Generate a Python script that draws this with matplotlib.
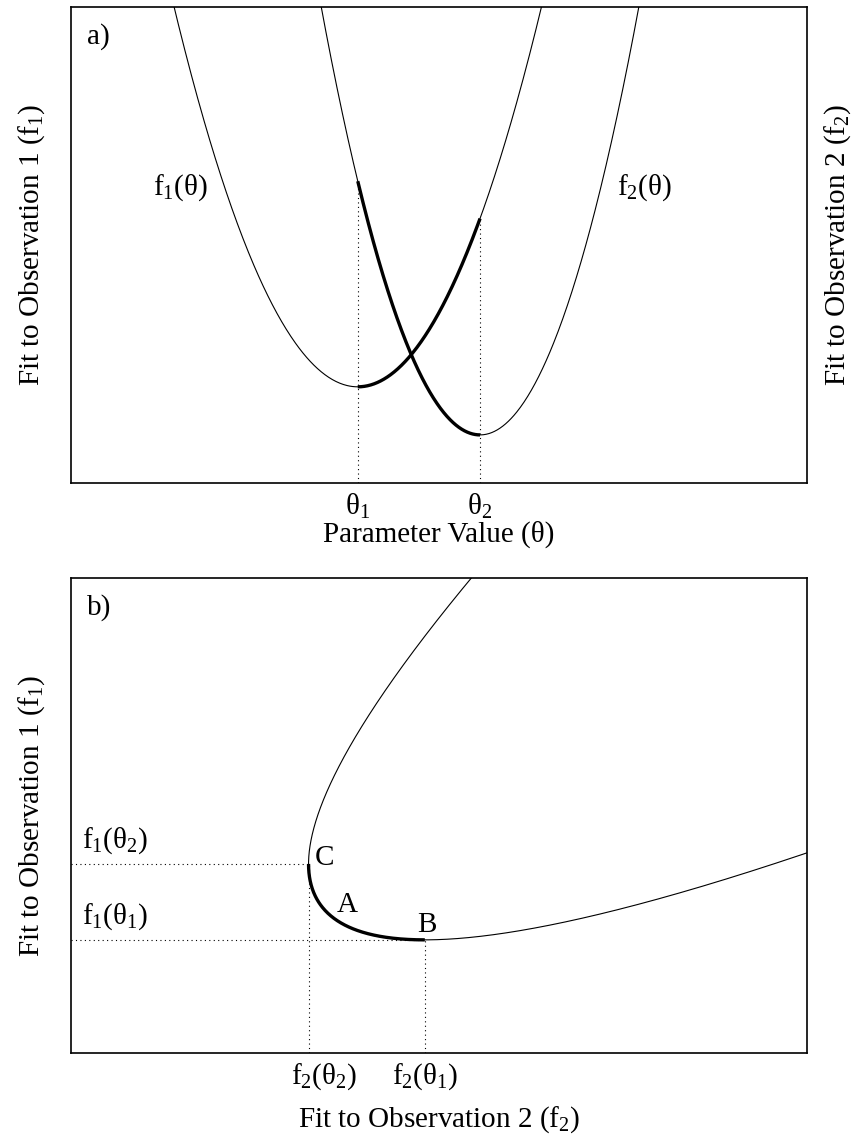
import numpy as np
import matplotlib.pyplot as plt
from matplotlib.transforms import ScaledTranslation

plt.rcParams['font.family'] = 'Liberation Serif'
plt.rcParams['mathtext.fontset'] = 'custom'
plt.rcParams['mathtext.rm'] = 'Liberation Serif'
plt.rcParams['mathtext.it'] = 'Liberation Serif:italic'
plt.rcParams['font.size'] = 21
plt.rcParams['axes.linewidth'] = 1.2

# quadratic misfit of each observation against the parameter
theta_best = [39.0, 55.6]      # theta_1, theta_2 (minimum of f1, f2)
f_min      = [20.2, 10.1]      # misfit at the minimum
curv       = [0.1283, 0.1934]  # curvature of each misfit

def f1(t):
    return f_min[0] + curv[0] * (t - theta_best[0])**2

def f2(t):
    return f_min[1] + curv[1] * (t - theta_best[1])**2

t1, t2 = theta_best
th     = np.linspace(0, 100, 800)
th_seg = np.linspace(t1, t2, 300)     # compromise region between the two optima
th_b   = np.linspace(-40, 140, 4000)

thin  = dict(color='k', lw=0.8)
thick = dict(color='k', lw=2.4, solid_capstyle='butt')
dots  = dict(color='k', lw=0.8, linestyle=(0, (1, 3)))

fig = plt.figure(figsize=(8.56, 11.41), dpi=100)
ax1 = fig.add_axes([0.0824, 0.5767, 0.8604, 0.4172])
ax2 = fig.add_axes([0.0824, 0.0771, 0.8604, 0.4163])

# ---- a) misfit vs parameter
ax1.plot(th, f1(th), **thin)
ax1.plot(th, f2(th), **thin)
ax1.plot(th_seg, f1(th_seg), **thick)
ax1.plot(th_seg, f2(th_seg), **thick)
ax1.plot([t1, t1], [0, f2(t1)], **dots)
ax1.plot([t2, t2], [0, f1(t2)], **dots)

ax1.set_xlim(0, 100)
ax1.set_ylim(0, 100)
ax1.set_xticks([t1, t2], ['θ$_1$', 'θ$_2$'])
ax1.set_yticks([])
ax1.tick_params(length=0, pad=6)
ax1.set_xlabel('Parameter Value (θ)', labelpad=0)
ax1.set_ylabel('Fit to Observation 1 (f$_1$)', labelpad=17)
ax1.text(1.0625, 0.5, 'Fit to Observation 2 (f$_2$)', rotation=90,
         ha='right', va='center', transform=ax1.transAxes)
ax1.text(0.022, 0.937, 'a)', ha='left', va='center', transform=ax1.transAxes)
ax1.text(14.9, 60.5, 'f$_1$(θ)', ha='center', va='baseline')
ax1.text(77.9, 60.5, 'f$_2$(θ)', ha='center', va='baseline')

# ---- b) trade-off curve f1 vs f2
ax2.plot(f2(th_b), f1(th_b), **thin)
ax2.plot(f2(th_seg), f1(th_seg), **thick)

xmin, xmax = -99, 238.6
ymin, ymax = -32.5, 188.7
ax2.plot([xmin, f2(t2)], [f1(t2), f1(t2)], **dots)
ax2.plot([xmin, f2(t1)], [f1(t1), f1(t1)], **dots)
ax2.plot([f2(t2), f2(t2)], [ymin, f1(t2)], **dots)
ax2.plot([f2(t1), f2(t1)], [ymin, f1(t1)], **dots)

ax2.set_xlim(xmin, xmax)
ax2.set_ylim(ymin, ymax)
ax2.set_xticks([f2(t2), f2(t1)], ['f$_2$(θ$_2$)', 'f$_2$(θ$_1$)'])
ax2.set_yticks([])
ax2.tick_params(length=0, pad=6)
lab = ax2.get_xticklabels()[0]
lab.set_transform(lab.get_transform() + ScaledTranslation(11 / 72, 0, fig.dpi_scale_trans))
ax2.set_xlabel('Fit to Observation 2 (f$_2$)', labelpad=9)
ax2.set_ylabel('Fit to Observation 1 (f$_1$)', labelpad=17)
ax2.text(0.022, 0.937, 'b)', ha='left', va='center', transform=ax2.transAxes)

ytr = ax2.get_yaxis_transform()
ax2.text(0.0156, f1(t2) + 7.4, 'f$_1$(θ$_2$)', ha='left', va='baseline', transform=ytr)
ax2.text(0.0156, f1(t1) + 7.4, 'f$_1$(θ$_1$)', ha='left', va='baseline', transform=ytr)

ax2.annotate('C', xy=(f2(t2), f1(t2)), xytext=(11.5, 4.3),
             textcoords='offset points', ha='center', va='center')
ax2.annotate('B', xy=(f2(t1), f1(t1)), xytext=(1.5, 10.8),
             textcoords='offset points', ha='center', va='center')
ax2.text(27.8, 36.4, 'A', ha='center', va='center')

fig.savefig('out.png', dpi=100)
